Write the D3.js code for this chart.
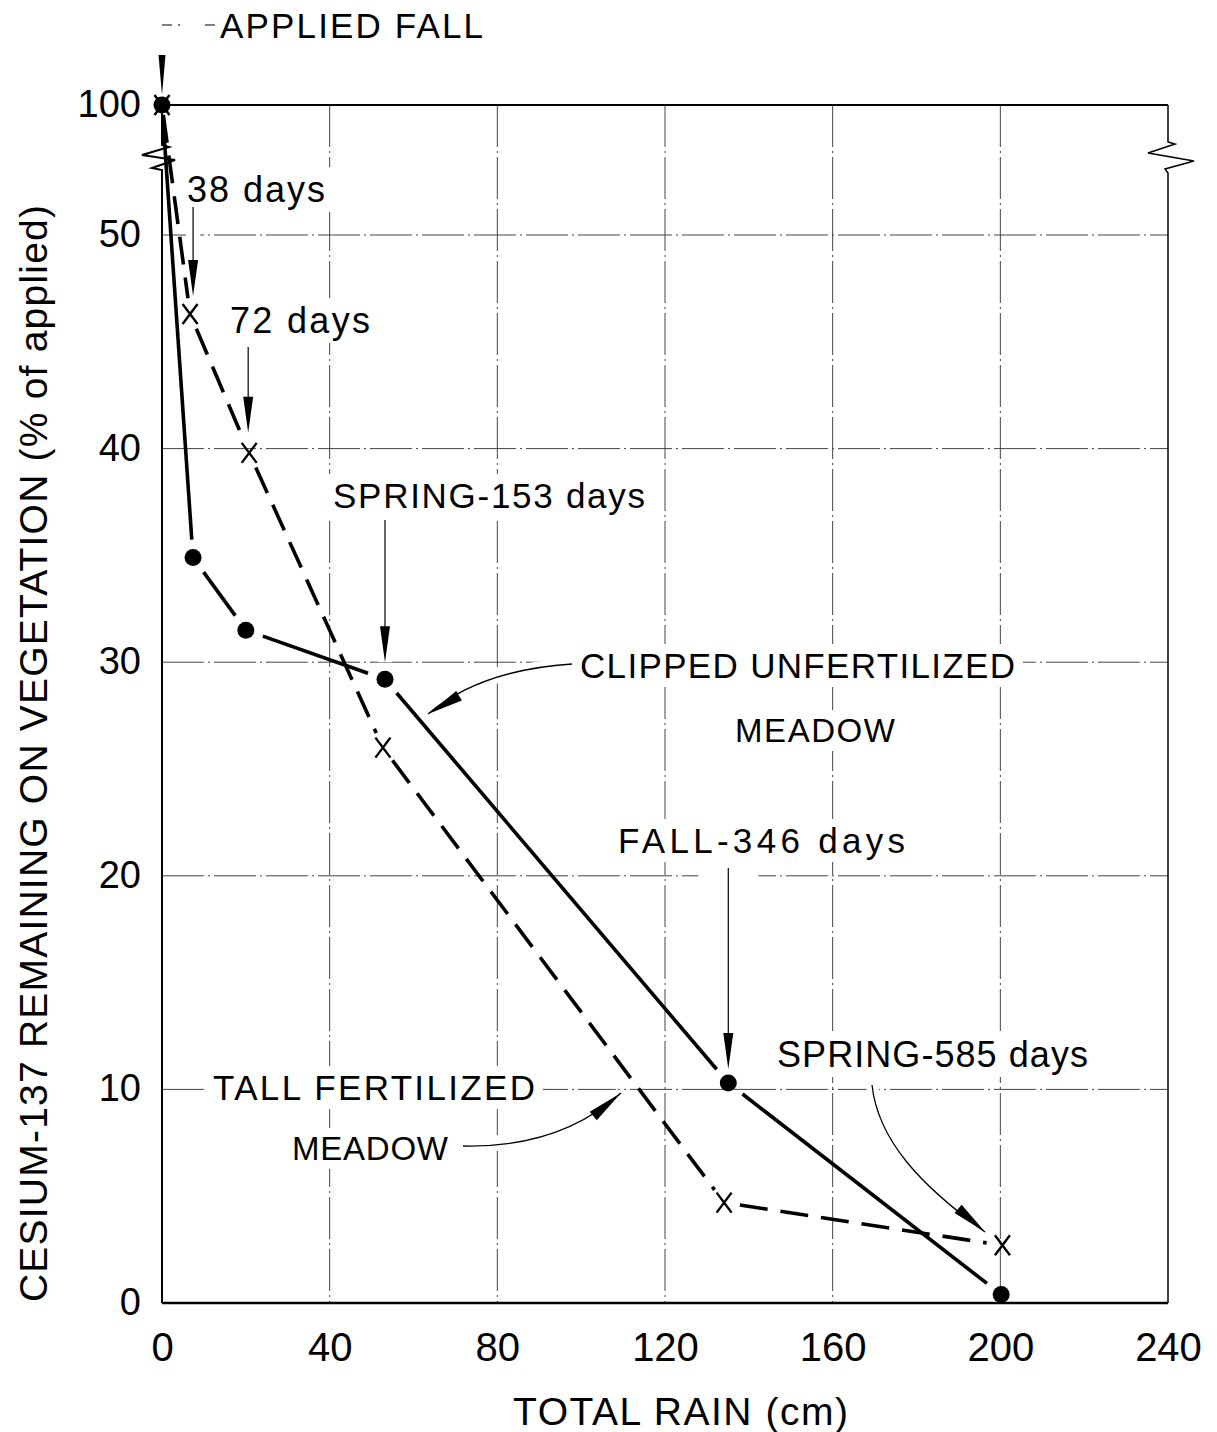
<!DOCTYPE html>
<html><head><meta charset="utf-8">
<script src="https://cdn.jsdelivr.net/npm/d3@7"></script>
<style>
html,body{margin:0;padding:0;background:#fff;}
svg text{font-family:"Liberation Sans",Arial,sans-serif;fill:#000;}
</style></head>
<body><svg id="c" width="1217" height="1432"></svg>
<script>
// ---- data ----
const xTicks = [0, 40, 80, 120, 160, 200, 240];
const yTicks = [0, 10, 20, 30, 40, 50, 100];
const xGrid = [40, 80, 120, 160, 200];
const yGrid = [10, 20, 30, 40, 50];
const rainClipped = [0, 7.4, 20.0, 53.2, 135.1, 200.2];
const csClipped   = [100, 34.9, 31.5, 29.2, 10.3, 0.4];
const rainTall    = [0, 6.7, 20.8, 52.7, 134.1, 200.5];
const csTall      = [100, 46.3, 39.8, 26.0, 4.7, 2.7];
const xTitle = "TOTAL RAIN (cm)";
const yTitle = "CESIUM-137 REMAINING ON VEGETATION (% of applied)";

const svg = d3.select("#c");
const x = d3.scaleLinear().domain([0, 240]).range([162, 1168]);
const y = d3.scaleLinear().domain([0, 50, 100]).range([1303, 235, 105]);

const gGrid = svg.append("g"), gKnock = svg.append("g"), gAxis = svg.append("g"),
      gData = svg.append("g"), gAnn = svg.append("g");

// grid
gGrid.selectAll("line.v").data(xGrid).join("line")
  .attr("x1", d => x(d)).attr("x2", d => x(d)).attr("y1", y(100)).attr("y2", y(0))
  .attr("stroke", "#444").attr("stroke-width", 1).attr("stroke-dasharray", "42,4,2,4");
gGrid.selectAll("line.h").data(yGrid).join("line")
  .attr("x1", x(0)).attr("x2", x(240)).attr("y1", d => y(d)).attr("y2", d => y(d))
  .attr("stroke", "#444").attr("stroke-width", 1).attr("stroke-dasharray", "42,4,2,4");

// axes frame
const X0 = x(0), X1 = x(240), Ytop = y(100), Ybot = y(0);
gAxis.append("path").attr("fill", "none").attr("stroke", "#000").attr("stroke-width", 2)
  .attr("d", `M${X0},${Ytop} L${X0},145 L${X0+7},147 L${X0-20},155 L${X0+13},160 L${X0-10},168 L${X0},170 L${X0},${Ybot}`);
gAxis.append("path").attr("fill", "none").attr("stroke", "#000").attr("stroke-width", 1.5)
  .attr("d", `M${X1},${Ytop} L${X1},142 L${X1+7},144 L${X1-20},153 L${X1+26},161 L${X1-3},169 L${X1},173 L${X1},${Ybot}`);
gAxis.append("line").attr("x1", X0).attr("x2", X1).attr("y1", Ytop).attr("y2", Ytop)
  .attr("stroke", "#000").attr("stroke-width", 1.8);
gAxis.append("line").attr("x1", X0).attr("x2", X1).attr("y1", Ybot).attr("y2", Ybot)
  .attr("stroke", "#000").attr("stroke-width", 2.5);

// tick labels via d3 axes
const ax = gAxis.append("g").attr("transform", `translate(0,${Ybot})`)
  .call(d3.axisBottom(x).tickValues(xTicks).tickSize(0).tickPadding(58).tickFormat(d3.format("d")));
ax.select(".domain").remove();
ax.selectAll("text").attr("font-size", 40).attr("font-family", "Liberation Sans").attr("fill", "#000")
  .attr("dy", 0);
const ay = gAxis.append("g").attr("transform", `translate(${X0},0)`)
  .call(d3.axisLeft(y).tickValues(yTicks).tickSize(0).tickPadding(21).tickFormat(d3.format("d")));
ay.select(".domain").remove();
ay.selectAll("text").attr("font-size", 38).attr("font-family", "Liberation Sans").attr("fill", "#000")
  .attr("dy", "0.3em");

// axis titles
gAxis.append("text").attr("x", 513).attr("y", 1425).attr("font-size", 39)
  .attr("textLength", 335).attr("lengthAdjust", "spacing").text(xTitle);
gAxis.append("text").attr("transform", "translate(47,1302) rotate(-90)")
  .attr("font-size", 39).attr("textLength", 1097).attr("lengthAdjust", "spacing").text(yTitle);

// data
function pts(r, c) { return r.map((v, i) => [x(v), y(c[i])]); }
function shortened(a, b, ga, gb) {
  const dx = b[0] - a[0], dy = b[1] - a[1], L = Math.hypot(dx, dy);
  return [[a[0] + dx * ga / L, a[1] + dy * ga / L], [b[0] - dx * gb / L, b[1] - dy * gb / L]];
}
const line = d3.line();
const pc = pts(rainClipped, csClipped), pt = pts(rainTall, csTall);
for (let i = 0; i < pc.length - 1; i++) {
  gData.append("path").attr("d", line(shortened(pc[i], pc[i+1], i === 0 ? 10 : 18, 18)))
    .attr("stroke", "#000").attr("stroke-width", 3.6).attr("fill", "none");
}
for (let i = 0; i < pt.length - 1; i++) {
  gData.append("path").attr("d", line(shortened(pt[i], pt[i+1], i === 0 ? 10 : 16, 16)))
    .attr("stroke", "#000").attr("stroke-width", 3.6).attr("fill", "none")
    .attr("stroke-dasharray", "28,13");
}
gData.selectAll("circle").data(pc).join("circle")
  .attr("cx", d => d[0]).attr("cy", d => d[1]).attr("r", 8.5).attr("fill", "#000");
gData.selectAll("path.xm").data(pt).join("path").attr("class", "xm")
  .attr("d", d => `M${d[0]-7.5},${d[1]-10}L${d[0]+7.5},${d[1]+10}M${d[0]+7.5},${d[1]-10}L${d[0]-7.5},${d[1]+10}`)
  .attr("stroke", "#000").attr("stroke-width", 2.4).attr("fill", "none");

// annotations
function head(tip, from, len = 34, hw = 5) {
  const dx = tip[0] - from[0], dy = tip[1] - from[1], L = Math.hypot(dx, dy);
  const ux = dx / L, uy = dy / L, bx = tip[0] - ux * len, by = tip[1] - uy * len;
  gAnn.append("path").attr("fill", "#000")
    .attr("d", `M${tip[0]},${tip[1]}L${bx - uy * hw},${by + ux * hw}L${bx + uy * hw},${by - ux * hw}Z`);
}
function vArrow(xp, top, tip, halo = 14) {
  gKnock.append("line").attr("x1", xp).attr("x2", xp).attr("y1", top).attr("y2", tip)
    .attr("stroke", "#fff").attr("stroke-width", halo);
  gAnn.append("line").attr("x1", xp).attr("x2", xp).attr("y1", top).attr("y2", tip - 30)
    .attr("stroke", "#000").attr("stroke-width", 1.2);
  head([xp, tip], [xp, top], 36, 5);
}
function curve(d, tip, from) {
  gKnock.append("path").attr("d", d).attr("stroke", "#fff").attr("stroke-width", 12).attr("fill", "none");
  gAnn.append("path").attr("d", d).attr("stroke", "#000").attr("stroke-width", 1.3).attr("fill", "none");
  head(tip, from, 36, 5.5);
}
function label(txt, xp, yp, w, fs = 36) {
  const t = gAnn.append("text").attr("x", xp).attr("y", yp).attr("font-size", fs)
    .attr("textLength", w).attr("lengthAdjust", "spacing").text(txt);
  const b = t.node().getBBox();
  gKnock.append("rect").attr("x", b.x - 8).attr("y", b.y - 2).attr("width", b.width + 16)
    .attr("height", b.height + 4).attr("fill", "#fff");
}

// APPLIED FALL
label("APPLIED FALL", 220, 38, 263, 35);
gAnn.append("line").attr("x1", X0).attr("x2", 215).attr("y1", 25).attr("y2", 25)
  .attr("stroke", "#000").attr("stroke-width", 1.2).attr("stroke-dasharray", "10,6,2,25,10");
gAnn.append("path").attr("fill", "#000")
  .attr("d", `M${pc[0][0]-3.5},55L${pc[0][0]+3.5},55L${pc[0][0]},${pc[0][1]-10}Z`);

label("38 days", 187, 202, 138, 36);
vArrow(pt[1][0] + 3, 207, pt[1][1] - 18);
label("72 days", 230, 333, 140, 36);
vArrow(pt[2][0] - 1, 347, pt[2][1] - 20);
label("SPRING-153 days", 333, 508, 312, 35);
vArrow(pc[3][0], 520, pc[3][1] - 17);
label("CLIPPED UNFERTILIZED", 580, 678, 435, 35);
label("MEADOW", 735, 742, 160, 33);
curve("M572,664 Q480,670 428,714", [428, 714], [462, 694]);
label("FALL-346 days", 618, 853, 287, 35);
vArrow(pc[4][0], 868, pc[4][1] - 14, 60);
label("SPRING-585 days", 777, 1067, 311, 36);
curve("M872,1085 C878,1140 920,1185 985,1232", [pt[5][0] - 17, pt[5][1] - 13], [957, 1208]);
label("TALL FERTILIZED", 213, 1100, 322, 35);
label("MEADOW", 292, 1160, 156, 33);
curve("M463,1146 Q560,1148 621,1093", [621, 1093], [592, 1117]);
</script></body></html>
